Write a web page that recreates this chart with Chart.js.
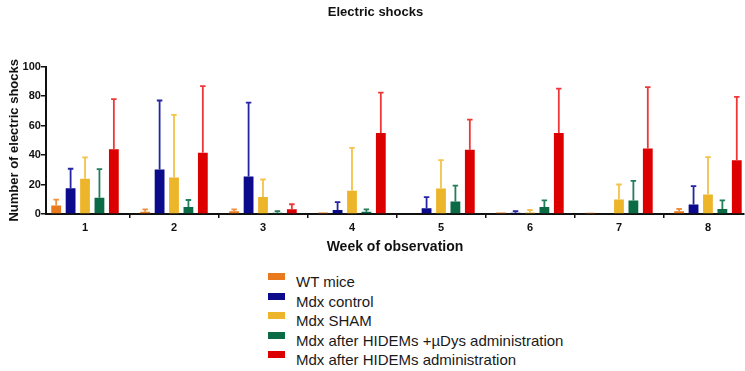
<!DOCTYPE html>
<html>
<head>
<meta charset="utf-8">
<script src="https://cdn.jsdelivr.net/npm/chart.js@4"></script>
<style>
  html, body { margin: 0; padding: 0; background: #fff; }
  #wrap { position: relative; width: 745px; height: 371px; }
  #box { position: absolute; left: 0; top: 0; width: 745px; height: 260px; }
  #legend { position: absolute; left: 268px; top: 272px; font-family: "Liberation Sans", Arial, sans-serif; font-size: 15px; color: #1a1a1a; }
  .item { position: relative; height: 19.6px; line-height: 19.6px; padding-left: 28px; white-space: nowrap; }
  .sw { position: absolute; left: 0; top: 1px; width: 17px; height: 7px; }
</style>
</head>
<body>
<div id="wrap">
  <div id="box"><canvas id="shockChart"></canvas></div>
  <div id="legend"></div>
</div>
<script>
const weeks = ['1', '2', '3', '4', '5', '6', '7', '8'];
const groups = ['WT mice', 'Mdx control', 'Mdx SHAM', 'Mdx after HIDEMs +\u00b5Dys administration', 'Mdx after HIDEMs administration'];

// mean number of shocks per week
const wtMean     = [5.7, 1.6, 1.8, 1.0, 0, 1.0, 0.9, 1.8];
const ctrlMean   = [17.5, 30.2, 25.5, 2.7, 3.9, 0.9, 0.5, 6.4];
const shamMean   = [23.9, 24.8, 11.6, 15.7, 17.3, 1.1, 9.8, 13.2];
const dysMean    = [11.1, 4.8, 0.9, 1.6, 8.4, 4.8, 9.1, 3.4];
const hidemsMean = [43.9, 41.6, 3.2, 55.0, 43.6, 55.0, 44.5, 36.4];

// upper error (SD)
const wtSd     = [4.1, 1.6, 1.4, 0, 0, 0, 0, 1.6];
const ctrlSd   = [13.2, 46.8, 50.0, 5.3, 7.5, 1.1, 0, 12.5];
const shamSd   = [14.5, 42.5, 11.8, 29.1, 19.3, 1.6, 10.2, 25.4];
const dysSd    = [19.4, 4.7, 1.1, 1.6, 10.9, 4.5, 13.4, 5.9];
const hidemsSd = [34.1, 45.2, 3.4, 27.3, 20.4, 30.0, 41.6, 43.1];

const yTicks = [0, 20, 40, 60, 80, 100];

const barColors = ['#E8791C', '#0B0B8C', '#EDB52A', '#0B6B45', '#DD0000'];
const errColors = ['#F0903C', '#2424A4', '#F5C24A', '#237E5A', '#EE3838'];

const means = [wtMean, ctrlMean, shamMean, dysMean, hidemsMean];
const sds = [wtSd, ctrlSd, shamSd, dysSd, hidemsSd];

const errorBars = {
  id: 'errorBars',
  afterDatasetsDraw(chart) {
    const ctx = chart.ctx;
    const y = chart.scales.y;
    chart.data.datasets.forEach((ds, d) => {
      const meta = chart.getDatasetMeta(d);
      meta.data.forEach((bar, i) => {
        const sd = sds[d][i];
        if (!sd) return;
        const top = y.getPixelForValue(means[d][i] + sd);
        const half = bar.width * 0.28;
        ctx.save();
        ctx.strokeStyle = errColors[d];
        ctx.lineWidth = 1.8;
        ctx.beginPath();
        ctx.moveTo(bar.x, bar.y);
        ctx.lineTo(bar.x, top);
        ctx.moveTo(bar.x - half, top);
        ctx.lineTo(bar.x + half, top);
        ctx.stroke();
        ctx.restore();
      });
    });
  }
};

const chart = new Chart(document.getElementById('shockChart'), {
  type: 'bar',
  data: {
    datasets: groups.map((g, d) => ({
      label: g,
      data: weeks.map((w, i) => ({ x: i + 1, y: means[d][i] })),
      backgroundColor: barColors[d],
      borderWidth: 0,
      categoryPercentage: 0.81,
      barPercentage: 0.68
    }))
  },
  options: {
    responsive: true,
    maintainAspectRatio: false,
    animation: false,
    layout: { padding: { left: 7, right: 1, top: 0, bottom: 4 } },
    plugins: {
      legend: { display: false },
      tooltip: { enabled: false },
      title: {
        display: true,
        text: 'Electric shocks',
        color: '#111',
        font: { family: 'Liberation Sans', size: 13, weight: 'bold' },
        padding: { top: 5, bottom: 46 }
      }
    },
    scales: {
      x: {
        type: 'linear',
        min: 0.561,
        max: 8.405,
        offset: false,
        afterBuildTicks: s => { s.ticks = weeks.map((w, i) => ({ value: i + 1 })); },
        grid: { display: true, drawOnChartArea: false, drawTicks: true, tickLength: 4, color: '#111', lineWidth: 1.5 },
        border: { display: true, color: '#111', width: 2 },
        ticks: {
          color: '#111',
          padding: 3,
          font: { family: 'Liberation Sans', size: 11, weight: 'bold' },
          callback: v => weeks[v - 1]
        },
        title: {
          display: true,
          text: 'Week of observation',
          color: '#111',
          font: { family: 'Liberation Sans', size: 14, weight: 'bold' },
          padding: { top: 2, bottom: 0 }
        }
      },
      y: {
        min: 0,
        max: 100,
        afterBuildTicks: s => { s.ticks = yTicks.map(v => ({ value: v })); },
        grid: { display: true, drawOnChartArea: false, drawTicks: true, tickLength: 5, color: '#111', lineWidth: 1.5 },
        border: { display: true, color: '#111', width: 2 },
        ticks: {
          color: '#111',
          padding: 0,
          font: { family: 'Liberation Sans', size: 11, weight: 'bold' }
        },
        title: {
          display: true,
          text: 'Number of electric shocks',
          color: '#111',
          font: { family: 'Liberation Sans', size: 13, weight: 'bold' },
          padding: { top: 0, bottom: 0 }
        }
      }
    }
  },
  plugins: [errorBars]
});

// legend as a single column under the plot
const legend = document.getElementById('legend');
chart.data.datasets.forEach((ds, d) => {
  const item = document.createElement('div');
  item.className = 'item';
  const sw = document.createElement('span');
  sw.className = 'sw';
  sw.style.background = barColors[d];
  item.appendChild(sw);
  item.appendChild(document.createTextNode(ds.label));
  legend.appendChild(item);
});
</script>
</body>
</html>
